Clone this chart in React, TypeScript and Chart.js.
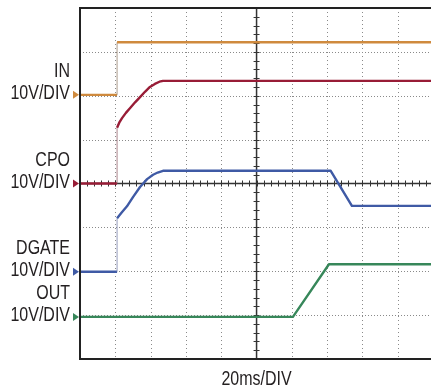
import React, { useEffect, useRef } from "react";
import { Chart, registerables } from "chart.js";

Chart.register(...registerables);

// Time axis in divisions (20ms/DIV), voltage axis in divisions (10V/DIV)
const xGrid = [1, 2, 3, 4, 5, 6, 7, 8, 9];
const yGrid = [1, 2, 3, 4, 5, 6, 7];
const xCenter = 5;
const yCenter = 4;

const inT = [0, 1.05, 1.05, 9.94];
const inV = [6.02, 6.02, 7.22, 7.22];

const cpoT = [0, 1.05, 1.05, 1.12, 1.19, 1.3, 1.42, 1.56, 1.7, 1.84, 1.98, 2.12, 2.25, 2.35, 9.94];
const cpoV = [4.0, 4.0, 5.27, 5.4, 5.49, 5.61, 5.72, 5.85, 5.97, 6.09, 6.2, 6.27, 6.32, 6.34, 6.34];

const dgateT = [0, 1.05, 1.05, 1.18, 1.33, 1.5, 1.7, 1.9, 2.07, 2.2, 2.35, 7.1, 7.7, 9.94];
const dgateV = [1.99, 1.99, 3.21, 3.34, 3.48, 3.69, 3.92, 4.1, 4.2, 4.25, 4.29, 4.29, 3.49, 3.49];

const outT = [0, 6.03, 7.05, 9.94];
const outV = [0.96, 0.96, 2.16, 2.16];

const names = ["IN", "CPO", "DGATE", "OUT"];
const scaleLabel = "10V/DIV";
const markerLevels = [6.02, 4.0, 1.99, 0.96];
const colors = ["#cf8a3e", "#981c36", "#3f5aa5", "#37875a"];
const stepColors = ["rgba(150,130,110,0.8)", "rgba(150,100,110,0.8)", "rgba(120,130,170,0.8)", "rgba(60,135,90,0.8)"];
const timeLabel = "20ms/DIV";

const FONT = '"Liberation Sans", Arial, sans-serif';
const SQUEEZE = 0.8;

const toPts = (t: number[], v: number[]) => t.map((x, i) => ({ x, y: v[i] }));

function narrowText(ctx: CanvasRenderingContext2D, text: string, x: number, y: number, align: CanvasTextAlign) {
  ctx.save();
  ctx.translate(x, y);
  ctx.scale(SQUEEZE, 1);
  ctx.textAlign = align;
  ctx.fillText(text, 0, 0);
  ctx.restore();
}

const scopePlugin = {
  id: "scope",
  beforeDatasetsDraw(chart: any) {
    const { ctx, chartArea: a, scales } = chart;
    const xs = scales.x;
    const ys = scales.y;
    ctx.save();
    // dotted grid
    ctx.strokeStyle = "#8a8a8a";
    ctx.lineWidth = 1;
    ctx.setLineDash([1, 3]);
    xGrid.forEach((g) => {
      if (g === xCenter) return;
      const px = Math.round(xs.getPixelForValue(g)) + 0.5;
      ctx.beginPath();
      ctx.moveTo(px, a.top);
      ctx.lineTo(px, a.bottom);
      ctx.stroke();
    });
    ctx.setLineDash([1, 2]);
    yGrid.forEach((g) => {
      if (g === yCenter) return;
      const py = Math.round(ys.getPixelForValue(g)) + 0.5;
      ctx.beginPath();
      ctx.moveTo(a.left, py);
      ctx.lineTo(a.right, py);
      ctx.stroke();
    });
    ctx.setLineDash([]);
    // center lines with minor ticks
    ctx.strokeStyle = "#333";
    ctx.lineWidth = 1.5;
    const cx = xs.getPixelForValue(xCenter);
    const cy = ys.getPixelForValue(yCenter);
    ctx.beginPath();
    ctx.moveTo(cx, a.top);
    ctx.lineTo(cx, a.bottom);
    ctx.moveTo(a.left, cy);
    ctx.lineTo(a.right, cy);
    ctx.stroke();
    ctx.lineWidth = 1;
    ctx.beginPath();
    for (let v = 0.2; v < 8; v += 0.2) {
      const py = Math.round(ys.getPixelForValue(v)) + 0.5;
      ctx.moveTo(cx - 3, py);
      ctx.lineTo(cx + 3, py);
    }
    for (let t = 0.2; t < 10; t += 0.2) {
      const px = Math.round(xs.getPixelForValue(t)) + 0.5;
      ctx.moveTo(px, cy - 3);
      ctx.lineTo(px, cy + 3);
    }
    ctx.stroke();
    ctx.restore();
  },
  afterDatasetsDraw(chart: any) {
    const { ctx, chartArea: a, scales } = chart;
    const ys = scales.y;
    ctx.save();
    // frame: left, top, bottom
    ctx.strokeStyle = "#222";
    ctx.lineWidth = 2;
    ctx.beginPath();
    ctx.moveTo(a.right + 2, a.top);
    ctx.lineTo(a.left, a.top);
    ctx.lineTo(a.left, a.bottom);
    ctx.lineTo(a.right + 2, a.bottom);
    ctx.stroke();
    // markers
    markerLevels.forEach((lv, i) => {
      const py = ys.getPixelForValue(lv);
      ctx.fillStyle = colors[i];
      ctx.beginPath();
      ctx.moveTo(a.left - 7, py - 4);
      ctx.lineTo(a.left - 1, py);
      ctx.lineTo(a.left - 7, py + 4);
      ctx.closePath();
      ctx.fill();
    });
    // labels
    ctx.fillStyle = "#231f20";
    ctx.font = `20px ${FONT}`;
    ctx.textBaseline = "alphabetic";
    markerLevels.forEach((lv, i) => {
      const py = ys.getPixelForValue(lv);
      narrowText(ctx, scaleLabel, 70, py + 4, "right");
      narrowText(ctx, names[i], 70, py - 18, "right");
    });
    narrowText(ctx, timeLabel, chart.scales.x.getPixelForValue(xCenter), 385, "center");
    ctx.restore();
  },
};

export default function App() {
  const ref = useRef<HTMLCanvasElement | null>(null);
  useEffect(() => {
    document.body.style.margin = "0";
    const series = [toPts(inT, inV), toPts(cpoT, cpoV), toPts(dgateT, dgateV), toPts(outT, outV)];
    const chart = new Chart(ref.current as HTMLCanvasElement, {
      type: "line",
      data: {
        datasets: series.map((d, i) => ({
          label: names[i],
          data: d,
          borderColor: colors[i],
          borderWidth: 2.4,
          pointRadius: 0,
          tension: 0,
          fill: false,
          borderJoinStyle: "round",
          segment: {
            borderColor: (c: any) => (c.p0.parsed.x === c.p1.parsed.x ? stepColors[i] : undefined),
            borderWidth: (c: any) => (c.p0.parsed.x === c.p1.parsed.x ? 1 : undefined),
          },
        })),
      },
      options: {
        responsive: false,
        animation: false,
        layout: { padding: { left: 80, top: 8, right: 0, bottom: 31 } },
        plugins: { legend: { display: false }, tooltip: { enabled: false } },
        scales: {
          x: { type: "linear", min: 0, max: 9.94, display: false },
          y: { type: "linear", min: 0, max: 8, display: false },
        },
      },
      plugins: [scopePlugin],
    } as any);
    return () => chart.destroy();
  }, []);
  return <canvas ref={ref} width={431} height={390} style={{ display: "block" }} />;
}
